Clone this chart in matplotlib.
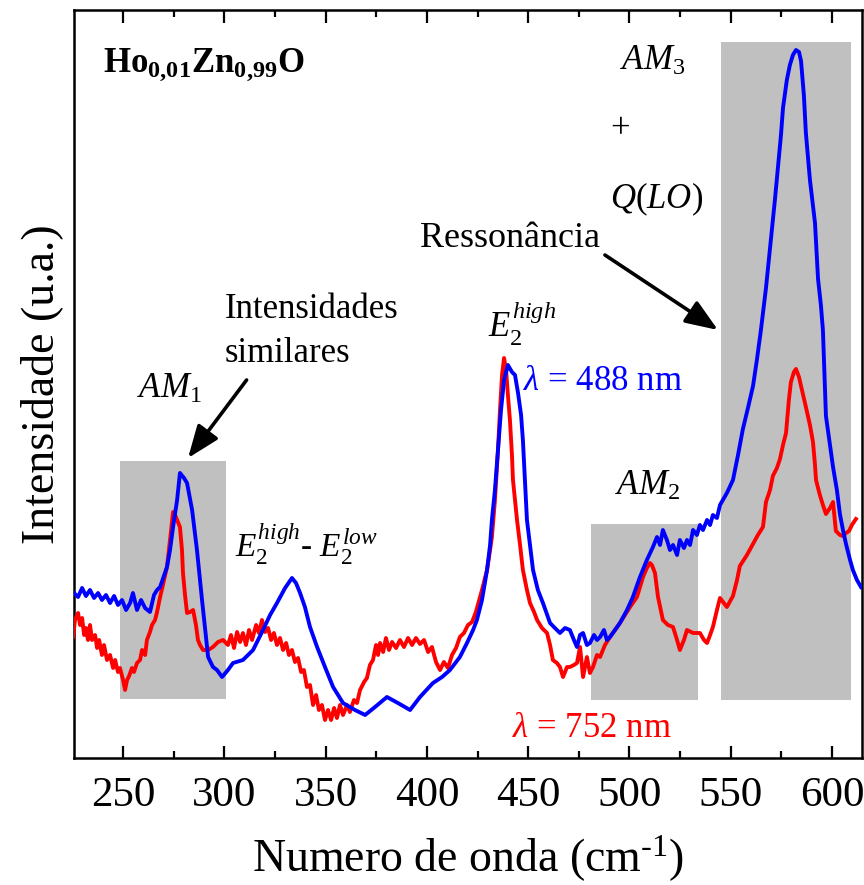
import matplotlib
matplotlib.use("Agg")
import matplotlib.pyplot as plt
from matplotlib.patches import Rectangle
from matplotlib.ticker import MultipleLocator

plt.rcParams["font.family"] = ["Liberation Serif", "DejaVu Serif"]
plt.rcParams["mathtext.fontset"] = "custom"
plt.rcParams["mathtext.rm"] = "Liberation Serif"
plt.rcParams["mathtext.it"] = "Liberation Serif:italic"
plt.rcParams["mathtext.bf"] = "Liberation Serif:bold"

# Raman spectrum, excitation 488 nm (wavenumber in cm-1, intensity in a.u.)
wn_488 = [225.8, 227.8, 229.8, 231.7, 233.7, 235.7, 237.7, 239.6, 241.6, 243.6,
          245.6, 247.5, 249.5, 251.5, 253.5, 254.9, 256.9, 258.9, 260.9, 263.3,
          265.3, 266.8, 268.3,
          271.7, 273.2, 274.7, 276.7, 278.1, 280.1, 281.6, 284.1, 286.5, 289.0,
          292.0, 294.4, 296.4, 298.9, 301.8, 304.3, 309.2, 314.2, 319.1, 322.6,
          326.0, 330.0, 333.4, 335.4, 337.4, 339.8, 342.3, 345.8, 349.7, 353.7,
          358.6, 364.5, 369.5, 374.4, 380.3, 385.7, 391.7, 396.6, 403.0, 407.5,
          411.4, 416.3, 419.8, 422.8, 424.7, 427.2, 429.7, 431.2, 432.1, 433.6,
          435.1, 436.6, 438.1, 440.0, 442.0, 443.5, 445.0, 446.5, 447.4, 448.4,
          449.4, 450.9, 452.4, 454.8, 457.3,
          460.8, 463.2, 465.7, 468.2, 470.6, 472.6, 474.1, 475.6, 477.1, 479.0,
          480.5, 482.5, 484.0, 485.5, 487.4, 488.9, 490.4,
          495.3, 498.8, 501.7, 505.2, 508.6,
          511.6, 513.6, 515.1, 516.5, 518.5, 520.0, 521.5, 523.5, 524.9, 526.9,
          528.4, 529.9, 531.4, 533.3, 534.8, 536.3, 538.3, 539.8, 541.2, 543.2,
          544.7,
          548.1, 551.1, 553.6, 556.0, 558.5, 561.0, 562.9, 564.9, 567.4, 569.8,
          571.8, 573.3, 574.8, 575.8, 577.7, 579.2, 580.7, 582.2, 583.7, 584.7,
          586.1, 587.1, 589.1, 591.6, 593.1, 594.5, 595.5, 597.0, 599.0, 600.5,
          602.4, 603.9, 605.4, 606.9, 608.9, 610.3, 612.3, 614.3]
int_488 = [165, 161, 170, 162, 168, 160, 165, 158, 163, 155,
           162, 153, 158, 148, 155, 165, 148, 158, 150, 146,
           163, 168, 171,
           191, 208, 231, 258, 285, 280, 275, 248, 208, 158,
           101, 91, 88, 81, 88, 95, 98, 108, 128, 143,
           155, 170, 180, 175, 165, 151, 131, 111, 91, 71,
           55, 48, 43, 51, 61, 55, 48, 61, 75, 81,
           88, 101, 115, 128, 138, 158, 188, 213, 238, 268,
           308, 348, 378, 393, 386, 383, 365, 343, 318, 278,
           238, 213, 188, 168, 155,
           135, 130, 125, 130, 128, 118, 111, 123, 125, 113,
           115, 123, 118, 121, 128, 118, 121,
           135, 148, 161, 181, 198,
           211, 221, 213, 228, 218, 208, 213, 203, 218, 210,
           218, 213, 228, 223, 233, 228, 238, 233, 243, 240,
           253,
           265, 278, 303, 329, 350, 372, 398, 428, 470, 518,
           558, 590, 623, 650, 678, 693, 703, 708, 706, 697,
           663, 625, 578, 535, 479, 453, 428, 342, 313, 291,
           268, 244, 228, 214, 198, 188, 178, 171]

# Raman spectrum, excitation 752 nm
wn_752 = [225.3, 226.3, 227.8, 228.8, 229.8, 230.8, 231.7, 232.7, 233.7, 234.7,
          236.2, 237.2, 238.2, 239.6, 240.6, 242.1, 243.6, 245.1, 246.1, 247.5,
          248.5, 250.0, 251.0, 252.0, 253.0, 254.4, 255.4, 256.9, 258.4, 259.4,
          260.9, 261.8, 263.3, 264.3, 265.8, 266.8,
          268.3, 269.7, 271.7, 273.2, 274.7, 275.7, 276.7, 278.1, 279.1, 279.6,
          280.6, 281.6, 283.1, 284.6, 286.0, 287.0, 288.0, 289.5, 292.0, 294.4,
          296.9, 299.4,
          301.8, 303.3, 304.8, 306.3, 307.8, 309.2, 310.7, 312.2, 313.7, 315.7,
          317.1, 318.6, 320.1, 321.6, 323.1, 324.5, 326.0, 327.5, 329.0, 330.5,
          331.9, 333.4, 334.9, 336.4, 337.9, 339.3, 340.8, 342.3, 343.8, 345.3,
          346.7, 348.2, 349.7, 351.2, 352.7, 354.2, 355.6, 357.1, 358.6, 360.6,
          362.0, 364.0, 365.5, 367.0, 369.0, 370.4, 371.9,
          373.4, 374.9, 375.9, 376.9, 378.4, 379.8, 381.3, 382.8, 384.8, 386.7,
          388.7, 390.7, 392.7, 394.6, 396.6, 398.6, 400.6, 402.5, 404.5, 406.5,
          408.4, 410.4, 412.4, 414.4, 416.3, 418.3, 420.3, 422.3, 424.2,
          427.2, 429.7, 431.2, 432.1, 433.6, 435.1, 436.1, 437.1, 438.1,
          439.1, 440.0, 441.0, 442.0, 442.5, 443.5, 444.5, 446.0, 447.4, 449.4,
          450.9, 452.9, 454.4, 456.8, 459.3, 460.8, 462.2, 464.2, 465.7, 467.2,
          469.2, 470.6, 472.6, 474.1, 475.6, 477.1, 479.0, 480.5, 482.0, 484.0,
          485.5, 487.9, 490.4, 492.9, 495.3, 497.8, 500.3, 503.7, 506.7, 508.6,
          510.1, 511.1, 512.6, 514.1, 516.5, 519.0, 521.5, 523.5, 524.9, 526.9,
          528.4, 531.4, 534.8, 536.8, 538.3, 539.8, 541.2, 543.2, 544.7, 548.1,
          551.1, 553.1, 554.5, 558.0, 561.0, 563.4, 565.9, 567.4, 569.4, 570.8,
          572.8, 574.3, 575.8, 577.3, 578.7, 579.7, 581.2, 582.2, 583.7, 584.7,
          586.1, 587.1, 589.1, 590.6, 591.6, 592.1, 594.0, 595.5, 597.0, 599.0,
          600.5, 601.9, 603.9, 605.4, 606.9, 608.4, 609.8, 611.8]
int_752 = [121, 138, 145, 133, 140, 123, 130, 118, 133, 118,
           123, 110, 118, 103, 113, 98, 103, 90, 98, 86,
           90, 78, 68, 78, 82, 90, 86, 95, 98, 108,
           103, 118, 126, 133, 138, 146,
           161, 173, 191, 218, 246, 243, 238, 231, 208, 185,
           163, 145, 146, 148, 133, 118, 113, 108, 108, 111,
           116, 118,
           113, 123, 110, 126, 116, 125, 113, 128, 118, 133,
           125, 138, 126, 130, 118, 125, 113, 120, 108, 115,
           103, 108, 96, 100, 86, 88, 71, 73, 53, 63,
           48, 53, 38, 48, 38, 50, 40, 53, 43, 53,
           46, 58, 55, 68, 76, 80, 93,
           98, 113, 103, 115, 106, 120, 108, 116, 110, 118,
           111, 120, 113, 120, 114, 118, 106, 111, 96, 88,
           96, 90, 103, 110, 121, 125, 133, 136, 146,
           168, 188, 208, 221, 258, 308, 348, 383, 400,
           388, 363, 338, 303, 278, 258, 238, 213, 188, 168,
           155, 146, 138, 130, 125, 113, 98, 95, 91, 81,
           91, 91, 93, 95, 111, 81, 101, 85, 91, 103,
           101, 113, 121, 128, 135, 143, 151, 161, 181, 190,
           195, 193, 185, 161, 138, 133, 131, 118, 108, 118,
           128, 125, 125, 118, 115, 123, 131, 148, 160, 151,
           162, 178, 192, 203, 214, 223, 231, 256, 268, 282,
           290, 299, 313, 325, 358, 376, 386, 389, 381, 372,
           360, 351, 333, 316, 293, 278, 263, 253, 244, 250,
           256, 227, 223, 222, 225, 227, 233, 239]

# Shaded spectral regions: (start, end, bottom, top)
regions = [(248.5, 300.8, 59, 297),
           (481.0, 533.8, 58, 234),
           (545.2, 609.3, 58, 716)]

x_ticks = [250, 300, 350, 400, 450, 500, 550, 600]

fig = plt.figure(figsize=(8.64, 8.85), dpi=100)
ax = fig.add_axes([74 / 864, 1 - 758 / 885, 788 / 864, 748 / 885])

for x0, x1, y0, y1 in regions:
    ax.add_patch(Rectangle((x0, y0), x1 - x0, y1 - y0, facecolor="#c0c0c0",
                           edgecolor="none", zorder=1))

ax.plot(wn_752, int_752, color="#ff0000", lw=2.8, zorder=3)
ax.plot(wn_488, int_488, color="#0000ff", lw=2.8, zorder=4)

ax.set_xlim(225.8, 614.8)
ax.set_ylim(0, 748)
ax.set_xticks(x_ticks)
ax.xaxis.set_minor_locator(MultipleLocator(25))
ax.set_yticks([])
ax.tick_params(axis="x", which="both", direction="in", top=True, bottom=True,
               labelsize=31, pad=13)
ax.tick_params(axis="x", which="major", length=9, width=1.6)
ax.tick_params(axis="x", which="minor", length=5, width=1.6)
for s in ax.spines.values():
    s.set_linewidth(1.8)

ax.set_xlabel(r"Numero de onda (cm$^{\text{-}1}$)", fontsize=33, labelpad=14)
ax.set_ylabel("Intensidade (u.a.)", fontsize=33, labelpad=8)

txt = dict(fontsize=25, zorder=6)
ax.text(240.3, 686, r"$\mathbf{Ho_{0{,}01}Zn_{0{,}99}O}$", fontsize=25, va="baseline")
ax.text(256.9, 360, r"$AM_{\mathrm{1}}$", va="baseline", **txt)
ax.text(300.4, 440, "Intensidades", va="baseline", **txt)
ax.text(300.4, 396, "similares", va="baseline", **txt)
ax.text(305.3, 201, r"$E_2^{high}$- $E_2^{low}$", va="baseline", fontsize=24, zorder=6)
ax.text(430.2, 421, r"$E_2^{high}$", va="baseline", **txt)
ax.text(447.4, 368, r"$\lambda$ = 488 nm", color="#0000ff", va="baseline", **txt)
ax.text(442.0, 21, r"$\lambda$ = 752 nm", color="#ff0000", va="baseline", **txt)
ax.text(492.9, 263, r"$AM_{\mathrm{2}}$", va="baseline", **txt)
ax.text(495.3, 688, r"$AM_{\mathrm{3}}$", va="baseline", **txt)
ax.text(495.3, 628, "+", ha="center", va="center", **txt)
ax.text(490.4, 550, r"$Q(LO)$", va="baseline", **txt)
ax.text(396.6, 511, "Ressonância", va="baseline", fontsize=26, zorder=6)

arrow = dict(arrowstyle="-|>,head_length=0.9,head_width=0.35", lw=2.6,
             color="black", mutation_scale=22, shrinkA=0, shrinkB=0)
ax.annotate("", xy=(282.1, 300), xytext=(311.0, 378), arrowprops=arrow, zorder=7)
ax.annotate("", xy=(543.7, 428), xytext=(487.9, 503), arrowprops=arrow, zorder=7)

fig.savefig("out.png", dpi=100)
